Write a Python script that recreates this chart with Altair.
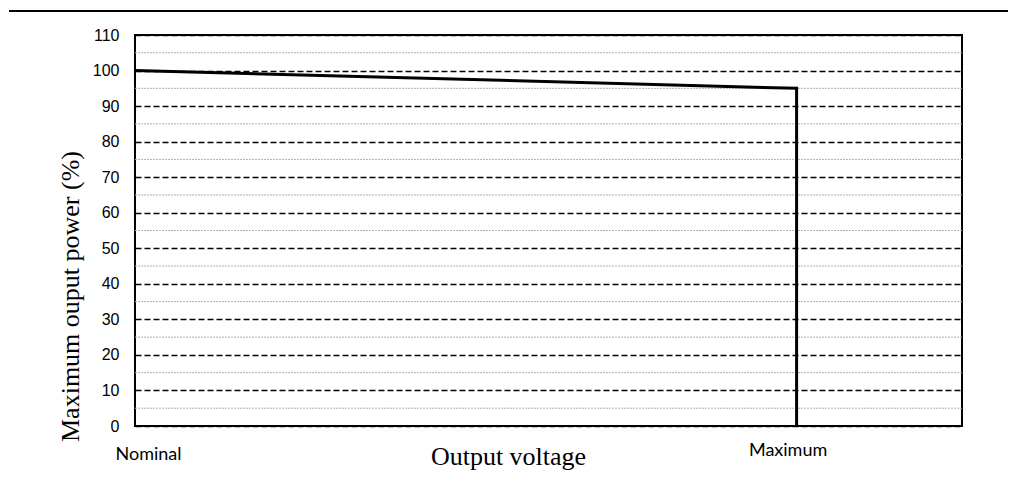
import altair as alt
import pandas as pd

# data
categories = ["Nominal", "Maximum"]
curve_x = [0, 1, 1]          # 0 = Nominal, 1 = Maximum
curve_y = [100, 95, 0]       # % of max output power
major_ticks = [0, 10, 20, 30, 40, 50, 60, 70, 80, 90, 100, 110]
minor_ticks = [5, 15, 25, 35, 45, 55, 65, 75, 85, 95, 105]

curve = pd.DataFrame({"x": curve_x, "y": curve_y, "i": list(range(len(curve_x)))})
minor = pd.DataFrame({"y": minor_ticks})
frame_df = pd.DataFrame({"a": [0]})

W, H = 827, 391

xscale = alt.Scale(domain=[0, 1.25], nice=False, zero=False)
yscale = alt.Scale(domain=[0, 110], nice=False)

label_expr = "datum.value == 0 ? '%s' : '%s'" % (categories[0], categories[1])

xaxis = alt.Axis(
    values=[0, 1],
    labelExpr=label_expr,
    labelFont="Lato", labelFontSize=18, labelColor="black",
    labelBaseline="alphabetic", labelAlign="center", labelFlush=False,
    labelOffset={"condition": {"test": "datum.value == 0", "value": 13}, "value": -9},
    labelPadding={"condition": {"test": "datum.value == 0", "value": 33}, "value": 29},
    ticks=False, tickSize=0, domain=False, grid=False,
    title="Output voltage",
    titleFont="Liberation Serif", titleFontSize=26, titleFontWeight="normal",
    titleColor="black", titleX=373, titleY=38, titleBaseline="alphabetic",
    titleAlign="center",
)

yaxis = alt.Axis(
    values=major_ticks,
    labelFont="Liberation Sans", labelFontSize=16, labelColor="black",
    labelPadding=16, ticks=False, tickSize=0, domain=False,
    grid=True, gridColor="black", gridDash=[6, 3], gridWidth=1.5,
    title="Maximum ouput power (%)",
    titleFont="Liberation Serif", titleFontSize=26, titleFontWeight="normal",
    titleColor="black", titleX=-65, titleY=261, titleBaseline="middle",
    titleAlign="center", titleAngle=270,
)

# outer frame: only the top edge and the left edge are visible in the reference
frame_top = alt.Chart(frame_df).mark_rule(stroke="black", strokeWidth=2).encode(
    x=alt.value(-126), x2=alt.value(873), y=alt.value(-24), y2=alt.value(-24),
)

minor_rules = alt.Chart(minor).mark_rule(
    stroke="#b0b0b0", strokeWidth=1, strokeDash=[2, 1]
).encode(y=alt.Y("y:Q", scale=yscale, axis=yaxis))

line = alt.Chart(curve).mark_line(
    color="black", strokeWidth=3, strokeJoin="miter"
).encode(
    x=alt.X("x:Q", scale=xscale, axis=xaxis),
    y=alt.Y("y:Q", scale=yscale, axis=yaxis),
    order="i:O",
)

chart = alt.layer(minor_rules, line, frame_top).properties(
    width=W, height=H,
    autosize=alt.AutoSizeParams(type="none"),
    padding={"left": 127, "top": 27, "right": 47, "bottom": 44},
    background="white",
).configure_view(stroke="black", strokeWidth=2)

chart.save("out.html", embed_options={"renderer": "svg", "actions": False})
